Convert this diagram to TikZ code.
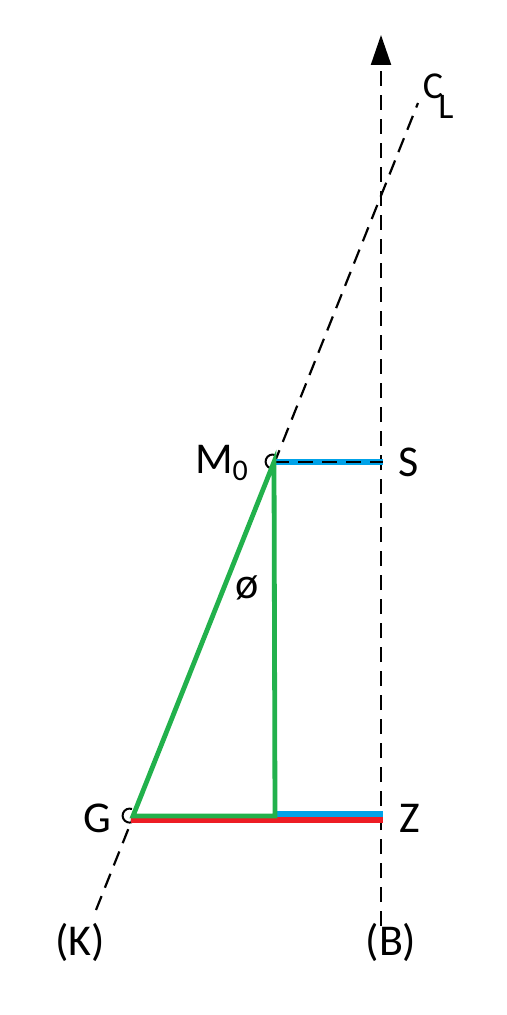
\documentclass[tikz,border=0pt]{standalone}
\usepackage{fontspec}
\setmainfont{Carlito}
\usetikzlibrary{arrows.meta}
\begin{document}
\begin{tikzpicture}[x=0.5pt,y=-0.5pt,
  dashln/.style={black,line width=1.1pt,dash pattern=on 7.5pt off 4.5pt},
  grn/.style={draw={rgb,255:red,34;green,177;blue,76},line width=2.4pt},
  blu/.style={draw={rgb,255:red,0;green,162;blue,232},line width=2.6pt},
  rd/.style={draw={rgb,255:red,237;green,28;blue,36},line width=2.6pt},
  lbl/.style={font=\fontsize{22}{26}\selectfont,inner sep=0pt},
  ptmark/.style={black,line width=1pt}]
\useasboundingbox (0,0) rectangle (507,1015);
% coordinates
\coordinate (M0) at (274,462);
\coordinate (S) at (383,462);
\coordinate (G) at (133,816);
\coordinate (F) at (275,816);
\coordinate (Z) at (383,816);
\coordinate (Bbot) at (381,926);
\coordinate (Btop) at (381,35);
\coordinate (Kbot) at (96,910);
\coordinate (Ktop) at (418,103);
\coordinate (Gr) at (131,820);
\coordinate (Zr) at (383,820);
\coordinate (Fb) at (275,814);
\coordinate (Zb) at (383,814);
% axis with arrow
\draw[dashln,-{Triangle[length=15pt,width=10pt]}] (Bbot) -- (Btop);
% slanted dashed line
\draw[dashln] (Kbot) -- (Ktop);
% small marks at points
\draw[ptmark] (275,455) arc[start angle=290,end angle=70,radius=7];
\draw[ptmark] (132,809) arc[start angle=290,end angle=70,radius=7];
% colored lines
\draw[blu] (M0) -- (S);
\draw[black,line width=0.9pt,dash pattern=on 7.5pt off 4.5pt] (M0) -- (S);
\draw[rd] (Gr) -- (Zr);
\draw[blu] (Fb) -- (Zb);
\draw[grn,line cap=round] (G) -- (M0) -- (F) -- cycle;
% labels
\node[lbl] (lM) at (222,463) {M\textsubscript{\fontsize{15}{18}\selectfont 0}};
\node[lbl] (lS) at (409,462) {S};
\node[lbl] (lG) at (97,818) {G};
\node[lbl] (lZ) at (410,818) {Z};
\node[lbl] (lK) at (80,942) {(K)};
\node[lbl] (lB) at (391,942) {(B)};
\node[lbl] (lphi) at (247,588) {ø};
\node[inner sep=0pt,font=\fontsize{19}{20}\selectfont] (lC) at (433,86) {C};
\node[inner sep=0pt,font=\fontsize{18}{20}\selectfont] (lL) at (446,107) {L};
\end{tikzpicture}
\end{document}
